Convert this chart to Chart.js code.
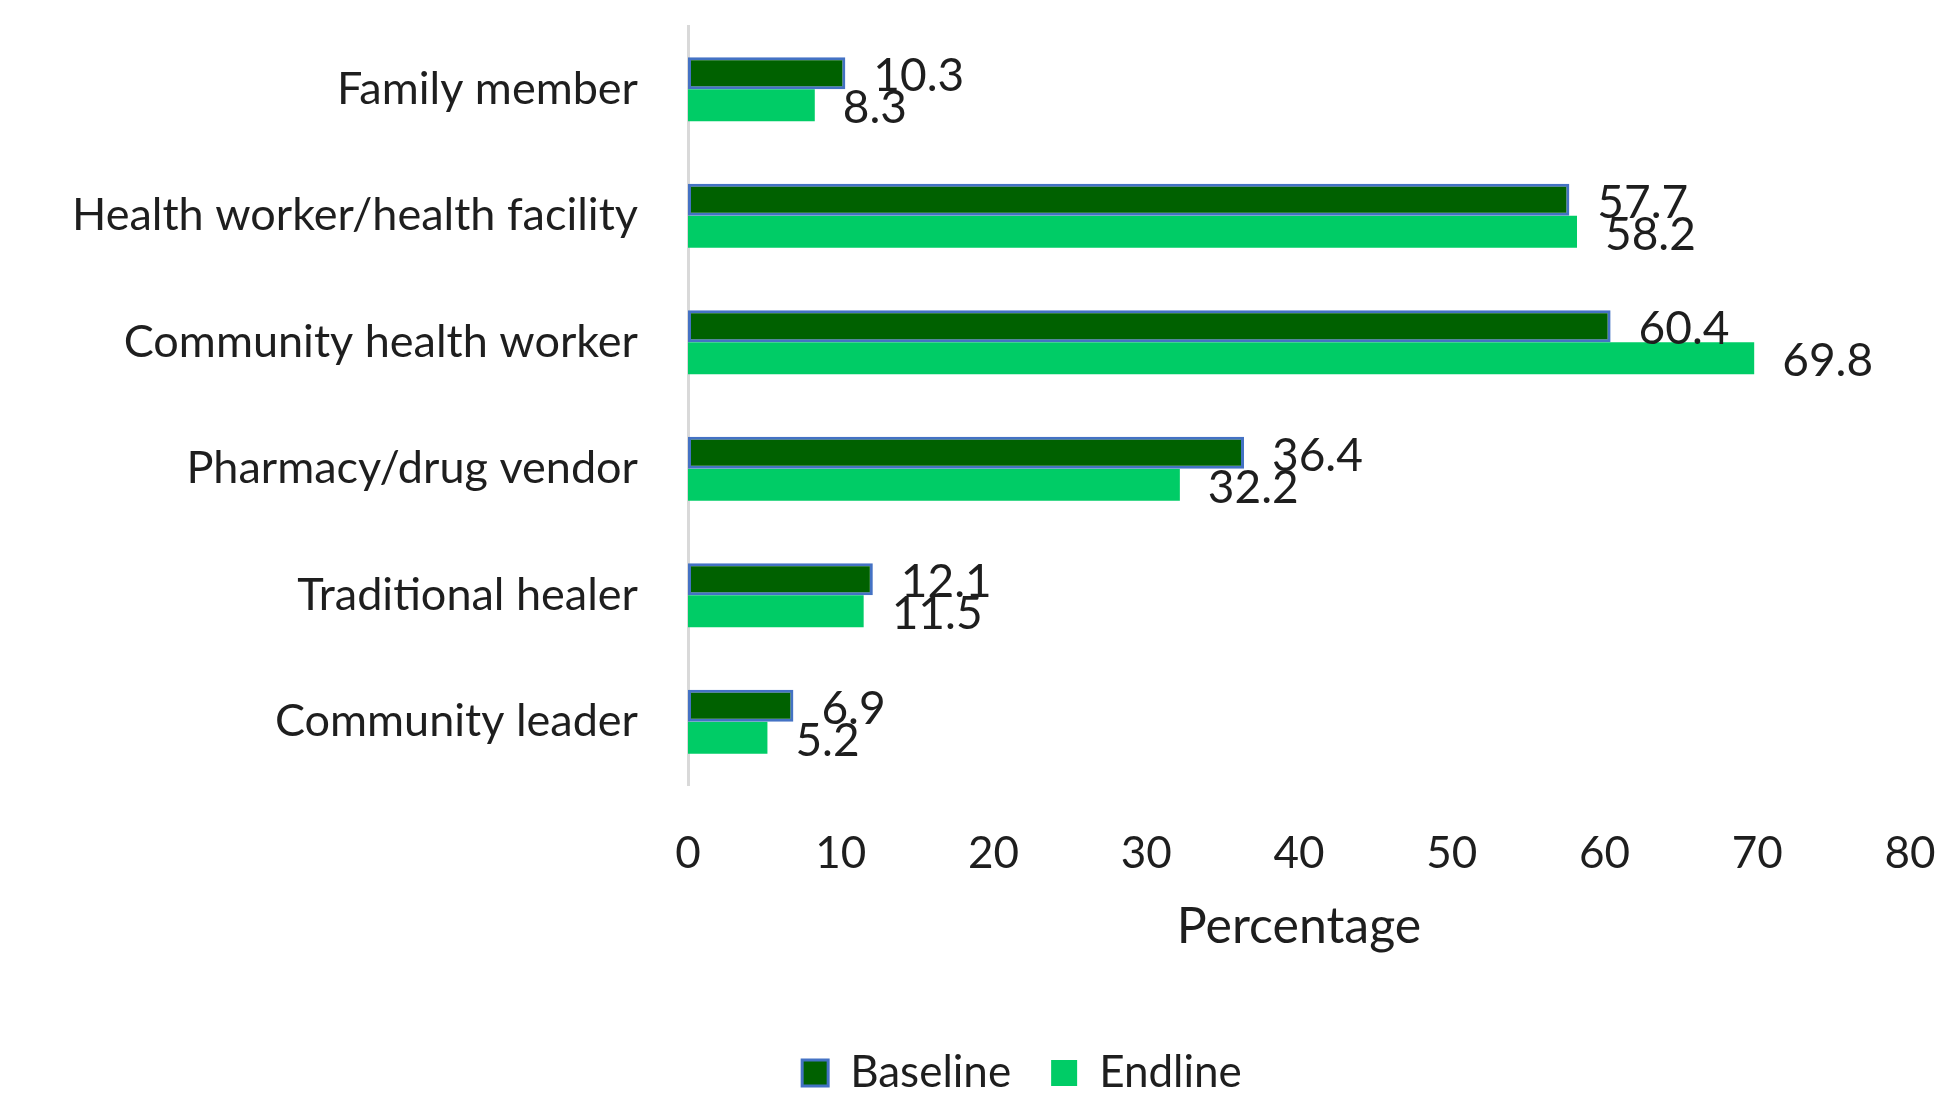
<!DOCTYPE html>
<html>
<head>
<meta charset="utf-8">
<script src="https://cdn.jsdelivr.net/npm/chart.js@4/dist/chart.umd.min.js"></script>
<style>
  body { margin: 0; background: #fff; }
  #wrap { width: 1959px; height: 1096px; position: relative; }
</style>
</head>
<body>
<div id="wrap"><canvas id="myChart"></canvas></div>
<script>
// Chart values
var categories = [
  'Family member',
  'Health worker/health facility',
  'Community health worker',
  'Pharmacy/drug vendor',
  'Traditional healer',
  'Community leader',
];
var baseline = [10.3, 57.7, 60.4, 36.4, 12.1, 6.9];
var endline = [8.3, 58.2, 69.8, 32.2, 11.5, 5.2];
var xTicks = [0, 10, 20, 30, 40, 50, 60, 70, 80];

var textColor = '#1e1e1e';
var fontName = 'Lato';

// Draw the value next to the end of each bar
var valueLabels = {
  id: 'valueLabels',
  afterDatasetsDraw: function (chart) {
    var ctx = chart.ctx;
    ctx.save();
    ctx.font = '46px ' + fontName;
    ctx.fillStyle = textColor;
    ctx.textAlign = 'left';
    ctx.textBaseline = 'middle';
    chart.data.datasets.forEach(function (ds, i) {
      var meta = chart.getDatasetMeta(i);
      meta.data.forEach(function (bar, j) {
        ctx.fillText(ds.data[j].toFixed(1), bar.x + 28, bar.y + 3);
      });
    });
    ctx.restore();
  },
};

// Legend sits a bit right of the canvas centre in the original
var legendShift = {
  id: 'legendShift',
  afterLayout: function (chart) {
    chart.legend.left = 134;
  },
};

var data = {
  labels: categories,
  datasets: [
    {
      label: 'Baseline',
      data: baseline,
      backgroundColor: '#006100',
      borderColor: '#4472C4',
      borderWidth: 3,
      borderSkipped: false,
    },
    {
      label: 'Endline',
      data: endline,
      backgroundColor: '#00CC66',
      borderWidth: 0,
    },
  ],
};

var options = {
  indexAxis: 'y',
  responsive: true,
  maintainAspectRatio: false,
  animation: false,
  layout: {
    padding: { top: 26, right: 49, left: 0, bottom: -9 },
  },
  datasets: {
    bar: { barPercentage: 1, categoryPercentage: 0.505 },
  },
  plugins: {
    tooltip: { enabled: false },
    legend: {
      position: 'bottom',
      labels: {
        color: textColor,
        font: { family: fontName, size: 44 },
        boxWidth: 26,
        boxHeight: 26,
        padding: 40,
      },
    },
  },
  scales: {
    x: {
      min: 0,
      max: 80,
      afterBuildTicks: function (scale) {
        scale.ticks = xTicks.map(function (v) { return { value: v }; });
      },
      afterFit: function (scale) {
        scale.height = 226;
        scale.paddingLeft = 0;
        scale.paddingRight = 0;
      },
      grid: { display: false, drawTicks: false },
      border: { display: false },
      ticks: {
        color: textColor,
        font: { family: fontName, size: 44 },
        padding: 42,
      },
      title: {
        display: true,
        text: 'Percentage',
        color: textColor,
        font: { family: fontName, size: 50 },
        padding: { top: 0, bottom: 54 },
      },
    },
    y: {
      afterFit: function (scale) {
        scale.width = 688;
        scale.paddingTop = 0;
        scale.paddingBottom = 0;
      },
      grid: { display: false, drawTicks: false },
      border: { display: true, color: '#d9d9d9', width: 3 },
      ticks: {
        color: textColor,
        font: { family: fontName, size: 45 },
        padding: 50,
      },
    },
  },
};

var ctx = document.getElementById('myChart').getContext('2d');
var myChart = new Chart(ctx, {
  type: 'bar',
  data: data,
  options: options,
  plugins: [valueLabels, legendShift],
});
</script>
</body>
</html>
